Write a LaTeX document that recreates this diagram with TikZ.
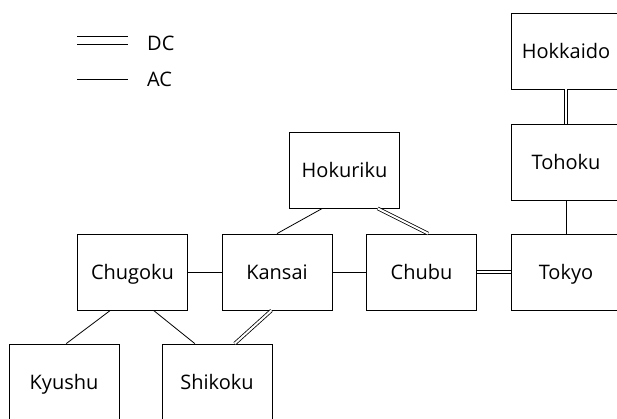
\documentclass[tikz,border=0pt]{standalone}
\usepackage{fontspec}
\setmainfont{Open Sans}
\usetikzlibrary{calc}
\begin{document}
\begin{tikzpicture}[x=1pt,y=-1pt,
  region/.style={draw, line width=0.8pt, minimum width=110pt, minimum height=76pt, inner sep=0pt, text height=14.3pt, text depth=0pt, font=\fontsize{20}{24}\selectfont},
  ac/.style={line width=0.8pt},
  dc/.style={line width=0.8pt, double, double distance=2pt},
  lbl/.style={font=\fontsize{20}{24}\selectfont, anchor=west, inner sep=0pt, text height=14.3pt, text depth=0pt}]
\clip (0,0) rectangle (617,418);
\fill[white] (0,0) rectangle (617,418);
% legend
\coordinate (dc1a) at (77,36); \coordinate (dc1b) at (128,36);
\coordinate (dc2a) at (77,44.5); \coordinate (dc2b) at (128,44.5);
\coordinate (aca) at (77,79); \coordinate (acb) at (128,79);
\draw[ac] (dc1a) -- (dc1b);
\draw[ac] (dc2a) -- (dc2b);
\draw[ac] (aca) -- (acb);
\node[lbl] (dclbl) at (147,43) {DC};
\node[lbl] (aclbl) at (147,79) {AC};
% regions
\node[region] (hokkaido) at (566,51) {Hokkaido};
\node[region] (tohoku) at (566,162) {Tohoku};
\node[region] (tokyo) at (566,272) {Tokyo};
\node[region] (chubu) at (421.5,272) {Chubu};
\node[region] (kansai) at (277,272) {Kansai};
\node[region] (chugoku) at (132.5,272) {Chugoku};
\node[region] (hokuriku) at (344.5,170) {Hokuriku};
\node[region] (kyushu) at (64,382) {Kyushu};
\node[region] (shikoku) at (217,382) {Shikoku};
% connectors
\draw[dc] (hokkaido) -- (tohoku);
\draw[ac] (tohoku) -- (tokyo);
\draw[dc] (chubu) -- (tokyo);
\draw[ac] (kansai) -- (chubu);
\draw[ac] (chugoku) -- (kansai);
\draw[ac] ($(hokuriku.south west)!0.3!(hokuriku.south east)$) -- (kansai.north);
\draw[dc] ($(hokuriku.south west)!0.8!(hokuriku.south east)$) -- ($(chubu.north west)!0.56!(chubu.north east)$);
\draw[ac] ($(chugoku.south west)!0.3!(chugoku.south east)$) -- ($(kyushu.north west)!0.52!(kyushu.north east)$);
\draw[ac] ($(chugoku.south west)!0.69!(chugoku.south east)$) -- ($(shikoku.north west)!0.3!(shikoku.north east)$);
\draw[dc] ($(kansai.south west)!0.45!(kansai.south east)$) -- ($(shikoku.north west)!0.66!(shikoku.north east)$);
\end{tikzpicture}
\end{document}
